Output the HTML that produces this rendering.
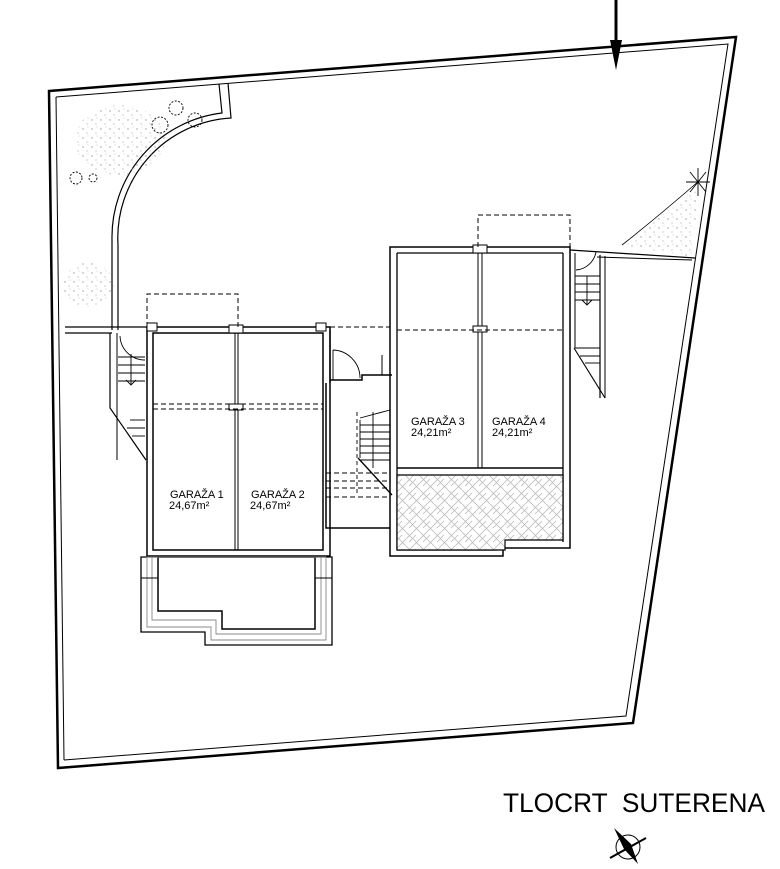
<!DOCTYPE html>
<html><head><meta charset="utf-8"><style>
html,body{margin:0;padding:0;background:#fff;}
svg{display:block;}
text{font-family:"Liberation Sans",sans-serif;}
</style></head><body>
<svg width="780" height="869" viewBox="0 0 780 869" xmlns="http://www.w3.org/2000/svg">
<defs>
<pattern id="hatch" width="14" height="14" patternUnits="userSpaceOnUse">
<rect width="14" height="14" fill="#fff"/>
<path d="M0 7 L7 0 M7 14 L14 7 M0 0 L7 7 M7 7 L14 14 M3 10 L10 3" stroke="#bbb" stroke-width="0.8" fill="none"/>
</pattern>
<pattern id="dots" width="9" height="9" patternUnits="userSpaceOnUse">
<circle cx="2" cy="3" r="0.7" fill="#999"/><circle cx="6" cy="7" r="0.6" fill="#aaa"/><circle cx="7" cy="1" r="0.5" fill="#bbb"/>
</pattern>
</defs>
<g fill="none" stroke="#000">
<!-- site boundary -->
<polygon points="49,91 736,37 633,723 58,768" stroke-width="2.5"/>
<polyline points="56,97 728,44 626,716 64,760" stroke-width="1"/>
<line x1="56" y1="97" x2="64" y2="760" stroke-width="1"/>

<!-- garden curved wall -->
<path d="M219,84 L222,113 A125,125 0 0 0 112,240 L112,330" stroke-width="1.2"/>
<path d="M228,83 L231,118 A120,120 0 0 0 118,245 L118,330" stroke-width="1.2"/>
<!-- stipple areas -->
<ellipse cx="120" cy="140" rx="45" ry="35" fill="url(#dots)" stroke="none"/>
<ellipse cx="88" cy="285" rx="26" ry="22" fill="url(#dots)" stroke="none"/>
<path d="M622,245 Q660,215 698,190 L692,257 Z" fill="url(#dots)" stroke="none"/>
<path d="M622,245 Q660,215 700,180" stroke-width="0.8"/>
<!-- shrubs -->
<g stroke-width="0.9">
<circle cx="160" cy="125" r="8" stroke-dasharray="2,1.5"/><circle cx="176" cy="108" r="7" stroke-dasharray="2,1.5"/><circle cx="195" cy="120" r="7" stroke-dasharray="2,1.5"/>
<circle cx="76" cy="178" r="6" stroke-dasharray="2,1.5"/><circle cx="93" cy="178" r="4" stroke-dasharray="2,1.5"/>
<path d="M690,172 L706,192 M706,172 L690,192 M686,182 L710,182 M698,168 L698,196"/>
</g>

<!-- horizontal lines near stairs -->
<line x1="65" y1="327" x2="147" y2="327" stroke-width="1.2"/>
<line x1="65" y1="333" x2="112" y2="333" stroke-width="1.2"/>
<!-- left stair -->
<polyline points="110,333 110,408 146,460" stroke-width="1.2"/>
<line x1="117" y1="333" x2="117" y2="460" stroke-width="1"/>
<g stroke-width="0.9">
<line x1="118" y1="357" x2="145" y2="357"/><line x1="118" y1="365" x2="145" y2="365"/>
<line x1="118" y1="373" x2="145" y2="373"/><line x1="118" y1="381" x2="145" y2="381"/>
<line x1="130" y1="420" x2="145" y2="420"/><line x1="127" y1="428" x2="145" y2="428"/><line x1="132" y1="436" x2="145" y2="436"/>
<line x1="131" y1="354" x2="131" y2="385"/><path d="M126,380 L131,385 L136,380"/>
<path d="M120,336 A25,25 0 0 0 145,360"/>
</g>

<!-- garage 1-2 -->
<rect x="147" y="327" width="183" height="229" stroke-width="1.5"/>
<rect x="153" y="333" width="170" height="217" stroke-width="1.5"/>
<line x1="235" y1="333" x2="235" y2="550" stroke-width="1"/>
<line x1="238" y1="333" x2="238" y2="550" stroke-width="1"/>
<rect x="229" y="325" width="14" height="8" fill="#fff" stroke-width="1"/>
<rect x="229" y="404" width="14" height="6" fill="#fff" stroke-width="1"/>
<rect x="147" y="323" width="10" height="8" fill="#fff" stroke-width="1"/>
<rect x="316" y="323" width="10" height="8" fill="#fff" stroke-width="1"/>
<g stroke-dasharray="5,3" stroke-width="1">
<polyline points="147,327 147,294 238,294 238,327"/>
<line x1="153" y1="404" x2="323" y2="404"/><line x1="153" y1="409" x2="323" y2="409"/>
<line x1="330" y1="327" x2="390" y2="327"/>
</g>
<!-- planter -->
<polygon points="141,557 332,557 332,645 205,645 205,632 141,632" stroke-width="1.3"/>
<polygon points="158,557 315,557 315,629 222,629 222,611 158,611" stroke-width="1.5"/>
<polygon points="147,557 326,557 326,640 211,640 211,627 147,627" stroke="#888" stroke-width="0.9"/>
<polygon points="152,557 321,557 321,634 216,634 216,620 152,620" stroke="#888" stroke-width="0.9"/>
<line x1="141" y1="578" x2="158" y2="578"/><line x1="315" y1="578" x2="332" y2="578"/>

<!-- corridor -->
<polyline points="326,383 326,528 390,528" stroke-width="1.5"/>
<polyline points="330,380 362,380 362,375 392,375" stroke-width="1.5"/>
<line x1="330" y1="330" x2="330" y2="383" stroke-width="1.3"/>
<path d="M333,350 L333,380 M333,350 A28,28 0 0 1 360,378" stroke-width="0.9"/>
<line x1="382" y1="355" x2="382" y2="375" stroke-width="1"/>
<g stroke-width="0.9">
<polyline points="357,412 357,495" stroke-dasharray="4,3"/>
<line x1="360" y1="418" x2="390" y2="410"/>
<line x1="360" y1="420" x2="360" y2="458"/>
<line x1="360" y1="425" x2="390" y2="425"/><line x1="360" y1="432" x2="390" y2="432"/>
<line x1="360" y1="439" x2="390" y2="439"/><line x1="360" y1="446" x2="390" y2="446"/>
<line x1="360" y1="453" x2="390" y2="453"/><line x1="360" y1="460" x2="390" y2="460"/>
<line x1="373" y1="412" x2="373" y2="468"/>
<line x1="358" y1="458" x2="392" y2="495" stroke-width="1.3"/>
<g stroke-dasharray="5,3"><line x1="326" y1="473" x2="390" y2="473"/><line x1="326" y1="481" x2="390" y2="481"/><line x1="326" y1="488" x2="390" y2="488"/><line x1="326" y1="497" x2="390" y2="497"/></g>
</g>

<!-- garage 3-4 -->
<polygon points="390,247 570,247 570,548 503,548 503,556 390,556" stroke-width="1.5"/>
<polyline points="397,253 397,550 497,550" stroke-width="1.3"/>
<line x1="397" y1="253" x2="563" y2="253" stroke-width="1.3"/>
<line x1="563" y1="253" x2="563" y2="542" stroke-width="1.3"/>
<line x1="397" y1="468" x2="563" y2="468" stroke-width="1.5"/>
<line x1="478" y1="253" x2="478" y2="468"/><line x1="482" y1="253" x2="482" y2="468"/>
<rect x="473" y="245" width="14" height="8" fill="#fff"/>
<rect x="473" y="326" width="14" height="6" fill="#fff"/>
<polygon points="397,475 563,475 563,540 505,540 505,550 397,550" fill="url(#hatch)" stroke-width="1.2"/>
<g stroke-dasharray="5,3" stroke-width="1">
<polyline points="478,247 478,215 570,215 570,247"/>
<line x1="397" y1="330" x2="563" y2="330"/>
</g>

<!-- right stair -->
<line x1="570" y1="250" x2="695" y2="258" stroke-width="1.2"/>
<line x1="597" y1="257" x2="692" y2="260" stroke-width="1"/>
<line x1="575" y1="253" x2="575" y2="348" stroke-width="1"/>
<polyline points="600,255 600,398" stroke-width="1.2"/>
<line x1="605" y1="256" x2="605" y2="398" stroke-width="1"/>
<line x1="574" y1="348" x2="605" y2="398" stroke-width="1.1"/>
<g stroke-width="0.9">
<line x1="575" y1="276" x2="600" y2="276"/><line x1="575" y1="284" x2="600" y2="284"/>
<line x1="575" y1="292" x2="600" y2="292"/><line x1="575" y1="300" x2="600" y2="300"/>
<line x1="575" y1="348" x2="600" y2="348"/><line x1="580" y1="356" x2="600" y2="356"/><line x1="585" y1="363" x2="600" y2="363"/>
<line x1="587" y1="276" x2="587" y2="305"/><path d="M582,300 L587,305 L592,300"/>
<path d="M576,270 A22,22 0 0 0 596,252"/>
</g>
</g>

<!-- labels -->
<g font-size="11" fill="#000">
<text x="170" y="498">GARAŽA 1</text><text x="169" y="509">24,67m²</text>
<text x="251" y="498">GARAŽA 2</text><text x="250" y="509">24,67m²</text>
<text x="411" y="425">GARAŽA 3</text><text x="411" y="436">24,21m²</text>
<text x="492" y="425">GARAŽA 4</text><text x="492" y="436">24,21m²</text>
</g>

<!-- entry arrow -->
<line x1="616" y1="0" x2="616" y2="42" stroke="#000" stroke-width="3"/>
<polygon points="610,40 622,40 616,70" fill="#000"/>

<text x="503" y="812" font-size="27" textLength="262" lengthAdjust="spacingAndGlyphs" fill="#000" xml:space="preserve">TLOCRT  SUTERENA</text>

<!-- north symbol -->
<g stroke="#000" fill="none">
<circle cx="628" cy="847" r="12" stroke-width="1"/>
<polygon points="614,828 631,844 638,864 624,849" fill="#000" stroke="none"/>
<line x1="610" y1="858" x2="646" y2="838" stroke-width="2"/>
</g>
</svg>
</body></html>
